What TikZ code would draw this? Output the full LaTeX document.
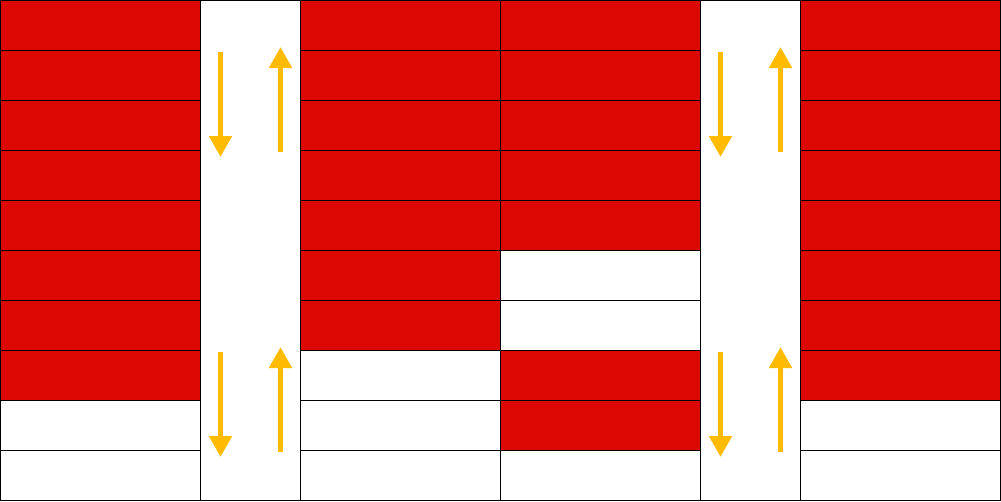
\documentclass[tikz,border=0pt]{standalone}
\usepackage{xcolor}
\usepackage{tikz}
\usetikzlibrary{arrows.meta}
\definecolor{slotred}{RGB}{220,8,0}
\definecolor{moveamber}{RGB}{255,187,0}

\begin{document}
\begin{tikzpicture}[
  cell/.style={draw=black, line width=0.55pt, minimum width=4cm, minimum height=1cm, inner sep=0pt, outer sep=0pt},
  gapcol/.style={draw=black, line width=0.55pt, fill=white, minimum width=2cm, minimum height=10cm, inner sep=0pt, outer sep=0pt},
  move/.style={-{Triangle[length=4.2mm, width=4.4mm]}, line width=2.8pt, draw=moveamber}]
  \useasboundingbox (-0.01,0.01) rectangle (20.01,-10.03);
  % storage columns, top row first
  \foreach \r/\f in {1/slotred,2/slotred,3/slotred,4/slotred,5/slotred,6/slotred,7/slotred,8/slotred,9/white,10/white}
    \node[cell, fill=\f] (a\r) at (2,{0.5-\r}) {};
  \foreach \r/\f in {1/slotred,2/slotred,3/slotred,4/slotred,5/slotred,6/slotred,7/slotred,8/white,9/white,10/white}
    \node[cell, fill=\f] (b\r) at (8,{0.5-\r}) {};
  \foreach \r/\f in {1/slotred,2/slotred,3/slotred,4/slotred,5/slotred,6/white,7/white,8/slotred,9/slotred,10/white}
    \node[cell, fill=\f] (c\r) at (12,{0.5-\r}) {};
  \foreach \r/\f in {1/slotred,2/slotred,3/slotred,4/slotred,5/slotred,6/slotred,7/slotred,8/slotred,9/white,10/white}
    \node[cell, fill=\f] (d\r) at (18,{0.5-\r}) {};
  % gaps between the columns
  \node[gapcol] (gapleft) at (5,-5) {};
  \node[gapcol] (gapright) at (15,-5) {};
  \foreach \g in {gapleft,gapright} {
    \coordinate (\g downtop) at ([xshift=-0.6cm,yshift=-1.03cm]\g.north);
    \coordinate (\g downend) at ([xshift=-0.6cm,yshift=-3.13cm]\g.north);
    \coordinate (\g upbase) at ([xshift=0.6cm,yshift=-3.03cm]\g.north);
    \coordinate (\g uptip) at ([xshift=0.6cm,yshift=-0.93cm]\g.north);
    \coordinate (\g lowdowntop) at ([xshift=-0.6cm,yshift=-7.03cm]\g.north);
    \coordinate (\g lowdownend) at ([xshift=-0.6cm,yshift=-9.13cm]\g.north);
    \coordinate (\g lowupbase) at ([xshift=0.6cm,yshift=-9.03cm]\g.north);
    \coordinate (\g lowuptip) at ([xshift=0.6cm,yshift=-6.93cm]\g.north);
    \draw[move] (\g downtop) -- (\g downend);
    \draw[move] (\g upbase) -- (\g uptip);
    \draw[move] (\g lowdowntop) -- (\g lowdownend);
    \draw[move] (\g lowupbase) -- (\g lowuptip);
  }
\end{tikzpicture}
\end{document}
